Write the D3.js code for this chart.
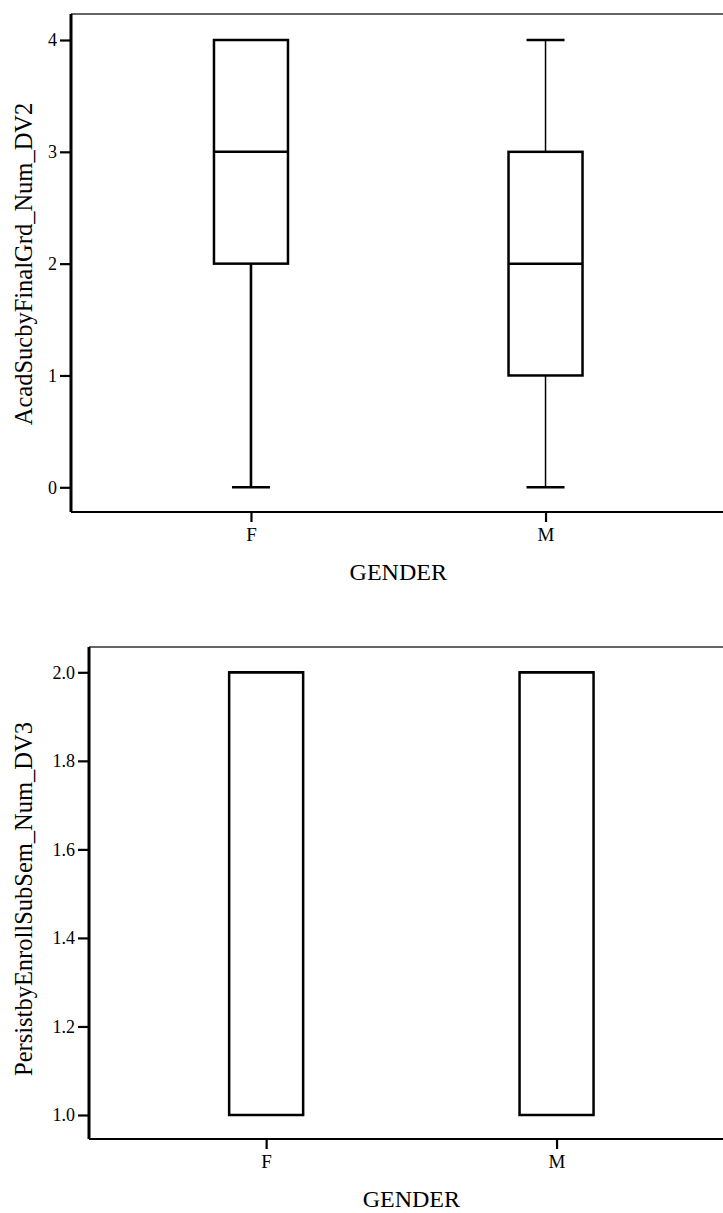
<!DOCTYPE html>
<html>
<head>
<meta charset="utf-8">
<script src="https://d3js.org/d3.v7.min.js"></script>
<style>
  body { margin: 0; background: #fff; }
  svg { display: block; }
  svg text { font-family: "Liberation Serif", "DejaVu Serif", "Times New Roman", serif; }
</style>
</head>
<body>
<svg id="chart" width="723" height="1213"></svg>
<script>
// categories on the x axis
const genders = ["F", "M"];

// boxplot stats, AcadSucbyFinalGrd_Num_DV2
const dv2Min = [0, 0];
const dv2Q1 = [2, 1];
const dv2Median = [3, 2];
const dv2Q3 = [4, 3];
const dv2Max = [4, 4];
const dv2Ticks = [0, 1, 2, 3, 4];

// boxplot stats, PersistbyEnrollSubSem_Num_DV3
const dv3Min = [1, 1];
const dv3Q1 = [1, 1];
const dv3Median = [2, 2];
const dv3Q3 = [2, 2];
const dv3Max = [2, 2];
const dv3Ticks = [1.0, 1.2, 1.4, 1.6, 1.8, 2.0];

const svg = d3.select("#chart");
const font = "Liberation Serif, DejaVu Serif, serif";

function drawBoxplot(opts) {
  const g = svg.append("g");

  // x positions of categories (frame runs a bit past the right edge of the picture)
  const x = d3.scalePoint()
    .domain(genders)
    .range([opts.left, opts.right])
    .padding(opts.xPad);

  const y = d3.scaleLinear()
    .domain(opts.domain)
    .range(opts.yRange);

  const rows = genders.map((c, i) => ({
    cat: c, min: opts.min[i], q1: opts.q1[i], med: opts.median[i], q3: opts.q3[i], max: opts.max[i]
  }));

  // frame: thin top, thick left, medium bottom
  g.append("line")
    .attr("x1", opts.left).attr("x2", opts.right)
    .attr("y1", opts.top).attr("y2", opts.top)
    .attr("stroke", "#333").attr("stroke-width", 1.5);
  g.append("line")
    .attr("x1", opts.left).attr("x2", opts.right)
    .attr("y1", opts.bottom).attr("y2", opts.bottom)
    .attr("stroke", "#000").attr("stroke-width", 1.8);
  g.append("line")
    .attr("x1", opts.left).attr("x2", opts.left)
    .attr("y1", opts.top).attr("y2", opts.bottom)
    .attr("stroke", "#000").attr("stroke-width", 3);

  // y axis
  const yAxis = g.append("g")
    .attr("transform", `translate(${opts.left - 1},0)`)
    .call(d3.axisLeft(y).tickValues(opts.ticks).tickFormat(opts.fmt).tickSize(10).tickPadding(3));
  yAxis.attr("font-family", null).attr("font-size", null);
  yAxis.select(".domain").remove();
  yAxis.selectAll(".tick line").attr("stroke", "#000").attr("stroke-width", 2.2);
  yAxis.selectAll(".tick text")
    .style("font-family", font).style("font-size", "18px").attr("fill", "#000");

  // x axis
  const xAxis = g.append("g")
    .attr("transform", `translate(0,${opts.bottom})`)
    .call(d3.axisBottom(x).tickSize(10).tickPadding(6));
  xAxis.attr("font-family", null).attr("font-size", null);
  xAxis.select(".domain").remove();
  xAxis.selectAll(".tick line").attr("stroke", "#000").attr("stroke-width", 2.2);
  xAxis.selectAll(".tick text")
    .style("font-family", font).style("font-size", "19px").attr("fill", "#000");

  const boxW = 74;
  const capW = 38;

  // whiskers (lower and upper), only where they extend past the box
  rows.forEach(d => {
    const cx = x(d.cat);
    const ww = opts.whiskerWidth[d.cat];
    if (d.min < d.q1) {
      g.append("line").attr("x1", cx).attr("x2", cx)
        .attr("y1", y(d.q1)).attr("y2", y(d.min))
        .attr("stroke", "#000").attr("stroke-width", ww);
      g.append("line").attr("x1", cx - capW / 2).attr("x2", cx + capW / 2)
        .attr("y1", y(d.min)).attr("y2", y(d.min))
        .attr("stroke", "#000").attr("stroke-width", 2.5);
    }
    if (d.max > d.q3) {
      g.append("line").attr("x1", cx).attr("x2", cx)
        .attr("y1", y(d.q3)).attr("y2", y(d.max))
        .attr("stroke", "#000").attr("stroke-width", ww);
      g.append("line").attr("x1", cx - capW / 2).attr("x2", cx + capW / 2)
        .attr("y1", y(d.max)).attr("y2", y(d.max))
        .attr("stroke", "#000").attr("stroke-width", 2.5);
    }
  });

  // boxes
  g.selectAll("rect.box")
    .data(rows)
    .join("rect")
    .attr("class", "box")
    .attr("x", d => x(d.cat) - boxW / 2)
    .attr("width", boxW)
    .attr("y", d => y(d.q3))
    .attr("height", d => y(d.q1) - y(d.q3))
    .attr("fill", "#fff")
    .attr("stroke", "#000")
    .attr("stroke-width", 2.5);

  // medians
  g.selectAll("line.median")
    .data(rows)
    .join("line")
    .attr("class", "median")
    .attr("x1", d => x(d.cat) - boxW / 2)
    .attr("x2", d => x(d.cat) + boxW / 2)
    .attr("y1", d => y(d.med))
    .attr("y2", d => y(d.med))
    .attr("stroke", "#000")
    .attr("stroke-width", 2.5);

  // axis titles
  g.append("text")
    .attr("x", (opts.left + opts.right) / 2)
    .attr("y", opts.bottom + 68)
    .attr("text-anchor", "middle")
    .style("font-family", font)
    .style("font-size", "24px")
    .text("GENDER");

  g.append("text")
    .attr("transform", `translate(32,${opts.yLabelY}) rotate(-90)`)
    .attr("text-anchor", "middle")
    .style("font-family", font)
    .style("font-size", "24.5px")
    .text(opts.yLabel);
}

drawBoxplot({
  left: 71, right: 725.5, top: 14, bottom: 512,
  xPad: 0.611,
  domain: [0, 4], yRange: [487.3, 40],
  ticks: dv2Ticks, fmt: d3.format("d"),
  min: dv2Min, q1: dv2Q1, median: dv2Median, q3: dv2Q3, max: dv2Max,
  whiskerWidth: { F: 2.6, M: 1.5 },
  yLabel: "AcadSucbyFinalGrd_Num_DV2", yLabelY: 264
});

drawBoxplot({
  left: 89, right: 733.7, top: 647, bottom: 1139,
  xPad: 0.61,
  domain: [1, 2], yRange: [1115, 672.3],
  ticks: dv3Ticks, fmt: d3.format(".1f"),
  min: dv3Min, q1: dv3Q1, median: dv3Median, q3: dv3Q3, max: dv3Max,
  whiskerWidth: { F: 1.5, M: 1.5 },
  yLabel: "PersistbyEnrollSubSem_Num_DV3", yLabelY: 899
});
</script>
</body>
</html>
